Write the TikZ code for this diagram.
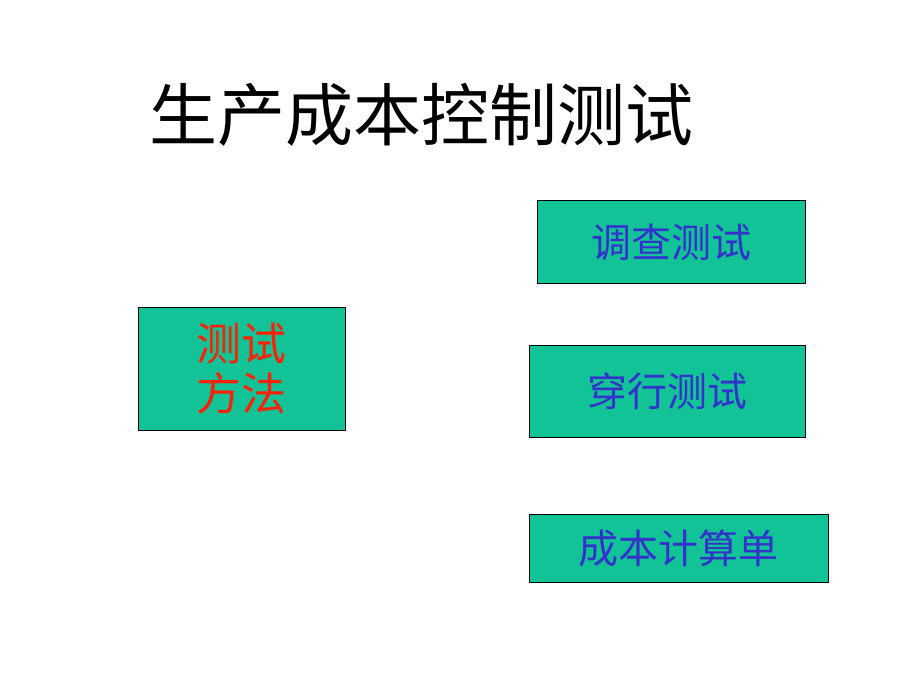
\documentclass[tikz,border=0pt]{standalone}
\usepackage{fontspec}
\newfontfamily\cjk{Noto Sans CJK SC}
\definecolor{boxfill}{HTML}{11C397}
\definecolor{boxtext}{HTML}{3333CC}
\definecolor{redtext}{HTML}{FF2200}
\tikzset{box/.style={draw=black,line width=0.8pt,fill=boxfill,inner sep=0pt,anchor=north west},
 boxlabel/.style={text=boxtext,font=\cjk\fontsize{40}{42}\selectfont}}
\begin{document}
\begin{tikzpicture}[x=1pt,y=-1pt]
\useasboundingbox[fill=white] (0,0) rectangle (920,690);
\node[anchor=center,font=\cjk\fontsize{68}{70}\selectfont] (title) at (421,115) {生产成本控制测试};
\node[box,minimum width=207pt,minimum height=123pt] (m) at (138,307) {};
\node[align=center,text=redtext,font=\cjk\fontsize{45}{50}\selectfont] (mt) at (m.center) {测试\\方法};
\node[box,minimum width=268pt,minimum height=83pt] (a) at (537,200) {};
\node[boxlabel] (at) at (a.center) {调查测试};
\node[box,minimum width=276pt,minimum height=92pt] (b) at (529,345) {};
\node[boxlabel] (bt) at (b.center) {穿行测试};
\node[box,minimum width=299pt,minimum height=68pt] (c) at (529,514) {};
\node[boxlabel] (ct) at (c.center) {成本计算单};
\end{tikzpicture}
\end{document}
